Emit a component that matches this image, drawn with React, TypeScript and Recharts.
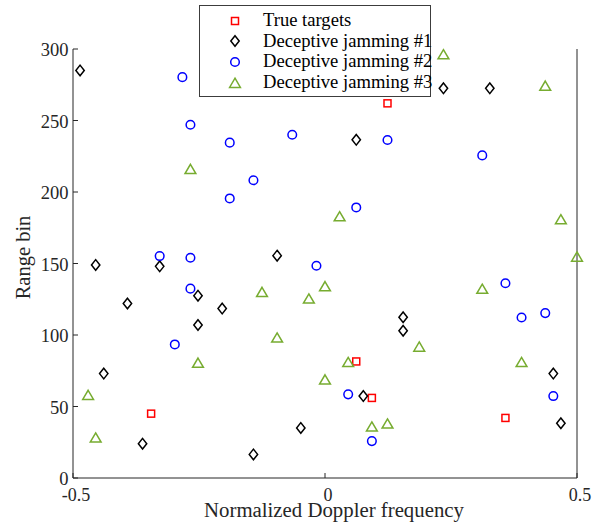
import { ScatterChart, Scatter, XAxis, YAxis, Label } from 'recharts';

const X_TICKS = [-0.5, 0, 0.5];
const Y_TICKS = [0, 50, 100, 150, 200, 250, 300];

const TRUE_TARGETS = [
  { x: -0.345, y: 45 },
  { x: 0.062, y: 81.5 },
  { x: 0.093, y: 56 },
  { x: 0.124, y: 262 },
  { x: 0.358, y: 42 },
];

const JAMMING_1 = [
  { x: -0.486, y: 285 },
  { x: -0.455, y: 149 },
  { x: -0.439, y: 73 },
  { x: -0.392, y: 122 },
  { x: -0.362, y: 24 },
  { x: -0.328, y: 148 },
  { x: -0.252, y: 127.5 },
  { x: -0.252, y: 107 },
  { x: -0.204, y: 118.5 },
  { x: -0.142, y: 16.5 },
  { x: -0.095, y: 155.5 },
  { x: -0.048, y: 35 },
  { x: 0.062, y: 236.5 },
  { x: 0.076, y: 57.3 },
  { x: 0.155, y: 112.4 },
  { x: 0.155, y: 103 },
  { x: 0.235, y: 272.5 },
  { x: 0.327, y: 272.5 },
  { x: 0.453, y: 73 },
  { x: 0.468, y: 38.3 },
];

const JAMMING_2 = [
  { x: -0.283, y: 280.3 },
  { x: -0.267, y: 247 },
  { x: -0.189, y: 234.5 },
  { x: -0.065, y: 240 },
  { x: -0.142, y: 208.2 },
  { x: -0.189, y: 195.5 },
  { x: -0.328, y: 155.2 },
  { x: -0.267, y: 154 },
  { x: -0.267, y: 132.4 },
  { x: -0.298, y: 93.4 },
  { x: -0.017, y: 148.4 },
  { x: 0.062, y: 189.2 },
  { x: 0.124, y: 236.4 },
  { x: 0.312, y: 225.6 },
  { x: 0.358, y: 136.2 },
  { x: 0.39, y: 112.2 },
  { x: 0.437, y: 115.3 },
  { x: 0.453, y: 57.3 },
  { x: 0.046, y: 58.5 },
  { x: 0.093, y: 25.8 },
];

const JAMMING_3 = [
  { x: 0.235, y: 296.2 },
  { x: 0.437, y: 274.2 },
  { x: -0.267, y: 216 },
  { x: 0.029, y: 182.9 },
  { x: 0.468, y: 180.8 },
  { x: 0.5, y: 154.7 },
  { x: -0.125, y: 130 },
  { x: -0.032, y: 125.4 },
  { x: 0.0, y: 134 },
  { x: 0.312, y: 132.2 },
  { x: -0.095, y: 98.1 },
  { x: 0.187, y: 91.8 },
  { x: 0.046, y: 81 },
  { x: -0.252, y: 80.5 },
  { x: 0.39, y: 81 },
  { x: 0.0, y: 68.8 },
  { x: -0.47, y: 58 },
  { x: -0.455, y: 28.2 },
  { x: 0.093, y: 35.9 },
  { x: 0.124, y: 38 },
];

const RED = '#ff0000';
const BLUE = '#0000ff';
const GREEN = '#77ac30';
const AXIS = '#262626';
const FONT = '"Liberation Serif", "Times New Roman", serif';
const SW = 1.5;

const Square = ({ cx, cy }: any) => (
  <rect x={cx - 3.5} y={cy - 3.5} width={7} height={7} fill="none" stroke={RED} strokeWidth={SW} />
);
const Diamond = ({ cx, cy }: any) => (
  <path
    d={`M${cx},${cy - 5.3}L${cx + 4.2},${cy}L${cx},${cy + 5.3}L${cx - 4.2},${cy}Z`}
    fill="none"
    stroke="#000"
    strokeWidth={SW}
  />
);
const Circle = ({ cx, cy }: any) => <circle cx={cx} cy={cy} r={4.3} fill="none" stroke={BLUE} strokeWidth={SW} />;
const Triangle = ({ cx, cy }: any) => (
  <path
    d={`M${cx},${cy - 4.8}L${cx + 5.4},${cy + 4.4}L${cx - 5.4},${cy + 4.4}Z`}
    fill="none"
    stroke={GREEN}
    strokeWidth={SW}
  />
);

const fmtX = (v: number) => (v === 0 ? '0' : String(v));

const BottomTick = ({ x, y, payload }: any) => (
  <g>
    <line x1={x} y1={y} x2={x} y2={y - 5} stroke={AXIS} />
    <text x={x + 3} y={y + 23} textAnchor="middle" fontSize={18} fill={AXIS} fontFamily={FONT}>
      {fmtX(payload.value)}
    </text>
  </g>
);
const TopTick = ({ x, y }: any) => <line x1={x} y1={y} x2={x} y2={y + 5} stroke={AXIS} />;
const LeftTick = ({ x, y, payload }: any) => (
  <g>
    <line x1={x} y1={y} x2={x + 5} y2={y} stroke={AXIS} />
    <text x={x - 4.5} y={y + 7} textAnchor="end" fontSize={18.5} fill={AXIS} fontFamily={FONT}>
      {payload.value}
    </text>
  </g>
);
const RightTick = ({ x, y }: any) => <line x1={x} y1={y} x2={x - 5} y2={y} stroke={AXIS} />;

const LEGEND = [
  { name: 'True targets', icon: <Square cx={7} cy={7} /> },
  { name: 'Deceptive jamming #1', icon: <Diamond cx={7} cy={7} /> },
  { name: 'Deceptive jamming #2', icon: <Circle cx={7} cy={7} /> },
  { name: 'Deceptive jamming #3', icon: <Triangle cx={7} cy={7} /> },
];

export default function App() {
  return (
    <div style={{ position: 'absolute', left: 0, top: 0, width: 608, height: 526, background: '#fff' }}>
      <ScatterChart width={608} height={526} margin={{ top: 49, right: 30, bottom: 0, left: 0 }}>
        <XAxis
          xAxisId="b"
          type="number"
          dataKey="x"
          domain={[-0.5, 0.5]}
          ticks={X_TICKS}
          interval={0}
          height={48}
          tickSize={0}
          tickMargin={0}
          stroke={AXIS}
          tick={<BottomTick />}
        >
          <Label
            content={({ viewBox }: any) => (
              <text
                x={viewBox.x + viewBox.width / 2 + 9}
                y={viewBox.y + 39}
                textAnchor="middle"
                fontSize={20.8}
                fill={AXIS}
                fontFamily={FONT}
              >
                Normalized Doppler frequency
              </text>
            )}
          />
        </XAxis>
        <XAxis
          xAxisId="t"
          orientation="top"
          type="number"
          dataKey="x"
          domain={[-0.5, 0.5]}
          ticks={X_TICKS}
          interval={0}
          height={0}
          tickSize={0}
          tickMargin={0}
          stroke={AXIS}
          tick={<TopTick />}
        />
        <YAxis
          yAxisId="l"
          type="number"
          dataKey="y"
          domain={[0, 300]}
          ticks={Y_TICKS}
          interval={0}
          width={73}
          tickSize={0}
          tickMargin={0}
          stroke={AXIS}
          tick={<LeftTick />}
        >
          <Label
            content={({ viewBox }: any) => {
              const cx = viewBox.x + 23;
              const cy = viewBox.y + viewBox.height / 2 - 6;
              return (
                <text
                  x={cx}
                  y={cy}
                  transform={`rotate(-90 ${cx} ${cy})`}
                  textAnchor="middle"
                  dominantBaseline="central"
                  fontSize={20.5}
                  fill={AXIS}
                  fontFamily={FONT}
                >
                  Range bin
                </text>
              );
            }}
          />
        </YAxis>
        <YAxis
          yAxisId="r"
          orientation="right"
          type="number"
          dataKey="y"
          domain={[0, 300]}
          ticks={Y_TICKS}
          interval={0}
          width={1}
          tickSize={0}
          tickMargin={0}
          stroke={AXIS}
          tick={<RightTick />}
        />
        <Scatter xAxisId="b" yAxisId="l" name="True targets" data={TRUE_TARGETS} shape={<Square />} isAnimationActive={false} />
        <Scatter xAxisId="b" yAxisId="l" name="Deceptive jamming #1" data={JAMMING_1} shape={<Diamond />} isAnimationActive={false} />
        <Scatter xAxisId="b" yAxisId="l" name="Deceptive jamming #2" data={JAMMING_2} shape={<Circle />} isAnimationActive={false} />
        <Scatter xAxisId="b" yAxisId="l" name="Deceptive jamming #3" data={JAMMING_3} shape={<Triangle />} isAnimationActive={false} />
      </ScatterChart>
      <div
        style={{
          position: 'absolute',
          left: 199,
          top: 5,
          width: 232,
          height: 92,
          boxSizing: 'border-box',
          border: '1px solid #3c3c3c',
          background: '#fff',
          paddingTop: 4,
          fontFamily: FONT,
          fontSize: 18.6,
          color: '#000',
        }}
      >
        {LEGEND.map((l) => (
          <div key={l.name} style={{ height: 20.7, lineHeight: '20.7px', position: 'relative', whiteSpace: 'nowrap' }}>
            <svg width={14} height={14} style={{ position: 'absolute', left: 28, top: 3.5 }}>
              {l.icon}
            </svg>
            <span style={{ position: 'absolute', left: 63, top: 0 }}>{l.name}</span>
          </div>
        ))}
      </div>
    </div>
  );
}
